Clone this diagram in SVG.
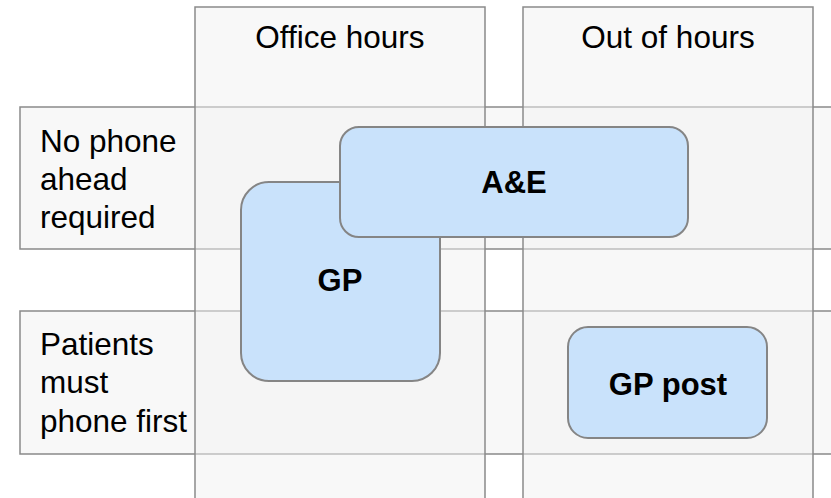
<svg xmlns="http://www.w3.org/2000/svg" width="831" height="498" viewBox="0 0 831 498">
<style>
.band{fill:#f1f1f1;fill-opacity:0.5;stroke:#8a8a8a;stroke-width:1.5}
.node{fill:#c9e2fb;stroke:#858585;stroke-width:2}
.hdr{font-family:"Liberation Sans",Arial,sans-serif;font-size:31.5px;fill:#000;text-anchor:middle}
.lbl{font-family:"Liberation Sans",Arial,sans-serif;font-size:31.5px;fill:#000}
.bold{font-family:"Liberation Sans",Arial,sans-serif;font-size:31px;font-weight:bold;fill:#000;text-anchor:middle}
</style>
<rect width="831" height="498" fill="#ffffff"/>
<g id="row-no-phone">
<rect class="band" x="20" y="107" width="830" height="142"/>
<text class="lbl" x="40" y="152">No phone</text>
<text class="lbl" x="40" y="190">ahead</text>
<text class="lbl" x="40" y="228">required</text>
</g>
<g id="row-phone-first">
<rect class="band" x="20" y="311" width="830" height="143"/>
<text class="lbl" x="40" y="355">Patients</text>
<text class="lbl" x="40" y="393">must</text>
<text class="lbl" x="40" y="432">phone first</text>
</g>
<g id="col-office">
<rect class="band" x="195" y="7" width="290" height="510"/>
<text class="hdr" x="340" y="48">Office hours</text>
</g>
<g id="col-out">
<rect class="band" x="523" y="7" width="290" height="510"/>
<text class="hdr" x="668" y="48">Out of hours</text>
</g>
<g id="connectors"></g>
<g id="gp">
<rect class="node" x="241" y="182" width="199" height="199" rx="28" ry="28"/>
<text class="bold" x="340" y="291">GP</text>
</g>
<g id="ae">
<rect class="node" x="340" y="127" width="348" height="110" rx="19" ry="19"/>
<text class="bold" x="514" y="193">A&amp;E</text>
</g>
<g id="gp-post">
<rect class="node" x="568" y="327" width="199" height="111" rx="20" ry="20"/>
<text class="bold" x="668" y="395">GP post</text>
</g>
</svg>
